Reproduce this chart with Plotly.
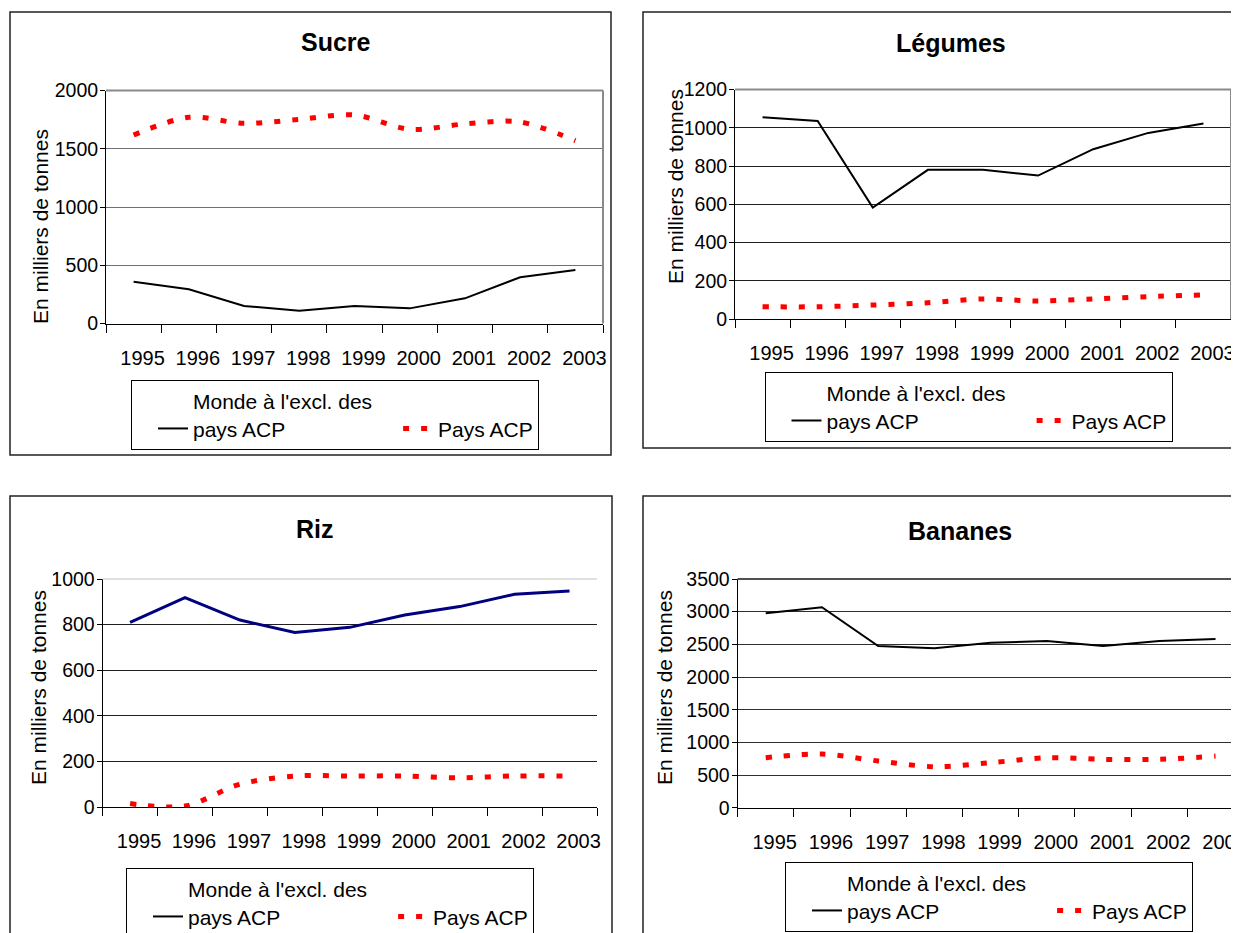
import plotly.graph_objects as go

# The page body adds an 8px margin; the figure is sized and offset so that
# page pixel coordinates of the reference map onto it directly.
OFF = 8
W, H = 1239 - OFF, 933 - OFF

def px(x):
    return (x - OFF) / W

def py(y):
    return 1 - (y - OFF) / H

FONT = "Liberation Sans, Arial, sans-serif"

# ---------------- data ----------------
years = ["1995", "1996", "1997", "1998", "1999", "2000", "2001", "2002", "2003"]

sucre_monde = [359, 294, 150, 110, 150, 130, 216, 397, 459]
sucre_acp = [1618, 1770, 1718, 1752, 1790, 1667, 1713, 1730, 1569]

legumes_monde = [1055, 1035, 583, 780, 780, 750, 888, 973, 1022]
legumes_acp = [64, 64, 73, 85, 105, 94, 105, 117, 126]

riz_monde = [810, 918, 820, 765, 788, 842, 879, 933, 947]
riz_acp = [15, 4, 100, 136, 136, 136, 128, 136, 136]

bananes_monde = [2975, 3067, 2475, 2439, 2525, 2551, 2475, 2551, 2582]
bananes_acp = [765, 822, 715, 628, 689, 765, 740, 740, 790]

titles = ["Sucre", "Légumes", "Riz", "Bananes"]
name_monde = "Monde à l'excl. des<br>pays ACP"
name_acp = "Pays ACP"
y_title = "En milliers de tonnes"

# ---------------- panel layout ----------------
panels = [
    dict(title=titles[0], monde=sucre_monde, acp=sucre_acp,
         xdom=(106, 603), ydom=(90.5, 323.5), ymax=2000, dtick=500, xmax=8.5,
         title_xy=(336, 42), ytitle_xy=(40, 227), legend_xy=(131, 380),
         box=(10, 12, 611, 455), grid="#707070", border="#8a8a8a", top_border="#8a8a8a",
         monde_color="black", monde_width=2),
    dict(title=titles[1], monde=legumes_monde, acp=legumes_acp,
         xdom=(735, 1231), ydom=(89.5, 319), ymax=1200, dtick=200, xmax=8.5,
         title_xy=(951, 43), ytitle_xy=(675, 187), legend_xy=(764.5, 372),
         box=(643, 12, 1250, 448), grid="#202020", border="#8a8a8a", top_border="#8a8a8a",
         monde_color="black", monde_width=2),
    dict(title=titles[2], monde=riz_monde, acp=riz_acp,
         xdom=(102.6, 597), ydom=(579, 807), ymax=1000, dtick=200, xmax=8.5,
         title_xy=(315, 529), ytitle_xy=(38, 688), legend_xy=(126, 868),
         box=(10, 496, 612, 950), grid="#202020", border=None, top_border="#e0e0e0",
         monde_color="#000080", monde_width=3),
    dict(title=titles[3], monde=bananes_monde, acp=bananes_acp,
         xdom=(737.6, 1239), ydom=(579, 807.7), ymax=3500, dtick=500, xmax=8.5 - 4.6 / 55.8,
         title_xy=(960, 531), ytitle_xy=(664, 688), legend_xy=(785, 862),
         box=(643, 496, 1250, 950), grid="#303030", border=None, top_border="#505050",
         monde_color="black", monde_width=2),
]

fig = go.Figure()
layout = dict(
    width=W, height=H, margin=dict(l=0, r=0, t=0, b=0, autoexpand=False),
    paper_bgcolor="white", plot_bgcolor="white",
    font=dict(family=FONT, color="black"),
    showlegend=True,
)
shapes = []
annotations = []

for i, p in enumerate(panels):
    n = "" if i == 0 else str(i + 1)
    xa, ya = "x" + n, "y" + n
    leg = "legend" + n
    # traces
    if p["monde_color"] != "black":
        fig.add_trace(go.Scatter(
            x=years, y=p["monde"], mode="lines", name=name_monde,
            line=dict(color=p["monde_color"], width=p["monde_width"]),
            xaxis=xa, yaxis=ya, legend=leg, showlegend=False, hoverinfo="skip"))
        fig.add_trace(go.Scatter(
            x=[None], y=[None], mode="lines", name=name_monde,
            line=dict(color="black", width=2),
            xaxis=xa, yaxis=ya, legend=leg, showlegend=True))
    else:
        fig.add_trace(go.Scatter(
            x=years, y=p["monde"], mode="lines", name=name_monde,
            line=dict(color=p["monde_color"], width=p["monde_width"]),
            xaxis=xa, yaxis=ya, legend=leg, showlegend=True))
    fig.add_trace(go.Scatter(
        x=years, y=p["acp"], mode="lines", name="<br>" + name_acp,
        line=dict(color="#ff0000", width=5, dash="6px,12px", shape="spline", smoothing=0.9),
        xaxis=xa, yaxis=ya, legend=leg, showlegend=True))

    x0, x1 = p["xdom"]
    yt, yb = p["ydom"]
    layout["xaxis" + n] = dict(
        type="category", domain=[px(x0), min(1, px(x1))], range=[-0.5, p["xmax"]],
        anchor=ya, tickson="boundaries", ticks="outside", ticklen=8, tickcolor="black",
        showline=True, linecolor="black", linewidth=1, showgrid=False, zeroline=False,
        tickfont=dict(size=20, family=FONT, color="black"), tickangle=0,
        ticklabelstandoff=16, ticklabelshift=9, ticklabeloverflow="allow",
        fixedrange=True,
    )
    layout["yaxis" + n] = dict(
        domain=[py(yb), py(yt)], range=[0, p["ymax"]], dtick=p["dtick"], tick0=0,
        anchor=xa, ticks="outside", ticklen=5, tickcolor="black",
        showline=True, linecolor="black", linewidth=1,
        showgrid=True, gridcolor=p["grid"], gridwidth=1, zeroline=False,
        tickfont=dict(size=19.5, family=FONT, color="black"), ticklabelstandoff=-2,
        fixedrange=True,
    )
    # plot-area border (top and right)
    shapes.append(dict(type="line", xref=xa + " domain", yref=ya + " domain",
                       x0=0, x1=1, y0=1, y1=1, line=dict(color=p["top_border"], width=2), layer="above"))
    if p["border"]:
        shapes.append(dict(type="line", xref=xa + " domain", yref=ya + " domain",
                           x0=1, x1=1, y0=0, y1=1, line=dict(color=p["border"], width=2), layer="above"))
    # outer chart box
    bx0, by0, bx1, by1 = p["box"]
    shapes.append(dict(type="rect", xref="paper", yref="paper",
                       x0=px(bx0), x1=px(bx1), y0=py(by1), y1=py(by0),
                       line=dict(color="#222222", width=1.5), layer="below"))
    # titles
    tx, ty = p["title_xy"]
    annotations.append(dict(text="<b>" + p["title"] + "</b>", x=px(tx), y=py(ty),
                            xref="paper", yref="paper", showarrow=False,
                            xanchor="center", yanchor="middle",
                            font=dict(size=25, family=FONT, color="black")))
    ax_, ay_ = p["ytitle_xy"]
    annotations.append(dict(text=y_title, x=px(ax_), y=py(ay_), xref="paper", yref="paper",
                            showarrow=False, textangle=-90, xanchor="center", yanchor="middle",
                            font=dict(size=21, family=FONT, color="black")))
    lx, ly = p["legend_xy"]
    layout[leg] = dict(
        x=px(lx), y=py(ly), xanchor="left", yanchor="top", orientation="h",
        bordercolor="black", borderwidth=1, bgcolor="white",
        font=dict(size=21, family=FONT, color="black"),
        valign="bottom", indentation=21, itemwidth=30,
    )

layout["shapes"] = shapes
layout["annotations"] = annotations
fig.update_layout(**layout)

fig.write_html("out.html")
